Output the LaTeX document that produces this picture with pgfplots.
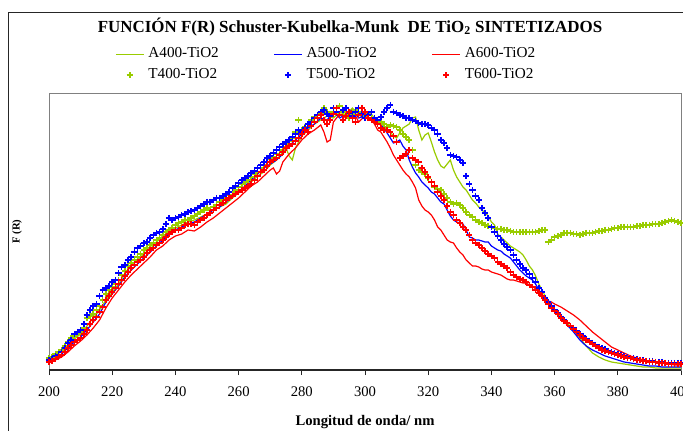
\documentclass[border=0pt]{standalone}
\usepackage{fontspec}
\setmainfont{Liberation Serif}
\usepackage{pgfplots}
\pgfplotsset{compat=1.18}
\definecolor{cgreen}{RGB}{153,204,0}
\definecolor{cblue}{RGB}{0,0,255}
\definecolor{cred}{RGB}{255,0,0}
\pgfplotsset{myleg/.style={legend image code/.code={\draw[mark repeat=2,mark phase=2,##1] plot coordinates {(0pt,0pt) (10.5pt,0pt) (21pt,0pt)};}},
  mymark/.style={only marks, mark=+, mark size=2.4pt, mark options={line width=1.15pt}}}
\begin{document}
\begin{tikzpicture}
\useasboundingbox (0,0) rectangle (512.25pt,322.5pt);
\fill[white] (0,0) rectangle (512.25pt,322.5pt);
\draw[line width=0.75pt, black!85] (6pt,-5pt) -- (6pt,313.5pt) -- (520pt,313.5pt);
\begin{axis}[
  at={(36.75pt,45pt)}, anchor=south west,
  scale only axis, width=474pt, height=207.75pt,
  xmin=200, xmax=400, ymin=0, ymax=277,
  xtick={200,220,...,400}, ytick=\empty,
  tick align=outside, xtick pos=bottom,
  major tick length=3.75pt,
  axis line style={draw=black!50, line width=0.6pt},
  tick style={black!85, line width=0.75pt},
  ticklabel style={font=\fontsize{11}{13}\selectfont},
  /pgf/number format/assume math mode=true,
  xticklabel style={/pgf/number format/1000 sep={}, yshift=-5.25pt},
  xlabel={Longitud de onda/ nm},
  xlabel style={font=\fontsize{11}{13}\selectfont\bfseries, at={(axis description cs:0.5,0)}, anchor=base, yshift=-41.5pt},
  ylabel={F (R)},
  ylabel style={font=\fontsize{8}{10}\selectfont\bfseries, at={(axis description cs:0,0.5)}, anchor=center, yshift=24pt},
  title={FUNCIÓN F(R) Schuster-Kubelka-Munk\ \ DE TiO\textsubscript{2} SINTETIZADOS},
  title style={font=\fontsize{12.7}{15}\selectfont\bfseries, at={(axis description cs:0.4763,1.1913)}, anchor=base},
  legend columns=3,
  legend cell align=left,
  legend style={draw=none, fill=none, inner sep=0pt, at={(axis description cs:0.1044,1.1661)}, anchor=north west,
    font=\fontsize{11.4}{13}\selectfont, row sep=5.25pt,
    nodes={inner sep=0pt, text height=8pt, text depth=2.5pt, text width=54pt, align=left},
    /tikz/every odd column/.append style={column sep=3pt},
    /tikz/every even column/.append style={column sep=39.75pt}},
  myleg,
]
% A400
\addplot[cgreen, line width=0.9pt, myleg] coordinates {
(200,10)(202,14)(204,19)(206,25)(208,31)(210,36)(212,44)(214,52)(216,60)(218,70)
(220,78)(222,86)(224,96)(226,104)(228,110)(230,116)(232,121)(234,128)(236,134)(238,138)
(240,142)(242,145)(244,148)(246,150)(248,153)(250,156)(252,160)(254,163)(256,166)(258,172)
(260,177)(262,182)(264,188)(266,194)(268,198)(270,205)(272,210)(274,218)(275,222)(276,214)
(277,210)(278,222)(280,234)(282,240)(284,246)(286,250)(288,254)(290,252)(292,258)(294,255)
(296,262)(298,255)(300,252)(302,256)(304,247)(306,243)(308,238)(309,234)(310,232)(311,237)
(312,242)(314,246)(315,252)(316,253)(317,240)(318,230)(319,235)(320,237)(321,228)(322,218)
(323,210)(324,204)(325,202)(326,206)(327,210)(328,200)(329,193)(330,188)(331,183)(332,180)
(333,175)(334,170)(335,167)(336,163)(337,160)(338,157)(339,154)(340,148)(341,145)(342,136)
(343,133)(344,130)(345,127)(346,124)(347,122)(348,120)(349,118)(350,115)(351,110)(352,104)
(353,100)(354,94)(355,86)(356,80)(357,74)(358,68)(359,64)(360,60)(362,52)(364,47)
(366,40)(368,32)(370,24)(372,17)(374,13)(376,10)(378,8)(380,7)(382,6)(384,5)
(386,4)(388,3)(390,3)(392,2)(394,2)(396,2)(398,2)(400,2)};
\addlegendentry{A400-TiO2}
% A500
\addplot[cblue, line width=0.9pt, myleg] coordinates {
(200,8)(202,12)(204,16)(206,22)(208,28)(210,33)(212,40)(214,48)(216,56)(218,68)
(220,76)(222,84)(224,93)(226,100)(228,106)(230,112)(232,118)(234,124)(236,130)(238,136)
(240,140)(242,143)(244,146)(246,148)(248,152)(250,156)(252,160)(254,163)(256,168)(258,173)
(260,178)(262,184)(264,190)(266,196)(268,202)(270,206)(272,210)(274,216)(276,224)(278,230)
(280,236)(282,242)(284,246)(286,252)(288,250)(290,258)(292,252)(294,256)(296,260)(298,252)
(300,254)(302,250)(304,248)(306,242)(307,237)(308,232)(309,227)(310,228)(311,230)(312,224)
(313,220)(314,210)(315,203)(316,197)(317,193)(318,188)(319,185)(320,182)(321,178)(322,176)
(323,172)(324,168)(325,166)(326,160)(327,154)(328,150)(329,148)(330,147)(331,146)(332,140)
(333,133)(334,132)(335,130)(336,130)(337,129)(338,128)(339,128)(340,124)(341,122)(342,120)
(343,119)(344,116)(345,114)(346,112)(347,108)(348,104)(349,100)(350,97)(351,94)(352,92)
(353,90)(354,86)(355,80)(356,76)(357,70)(358,66)(359,62)(360,58)(362,52)(364,45)
(366,38)(368,30)(370,24)(372,20)(374,17)(376,14)(378,12)(380,10)(382,8)(384,7)
(386,6)(388,5)(390,4)(392,4)(394,3)(396,3)(398,3)(400,3)};
\addlegendentry{A500-TiO2}
% A600
\addplot[cred, line width=0.9pt, myleg] coordinates {
(200,7)(202,10)(204,13)(206,18)(208,24)(210,29)(212,35)(214,42)(216,50)(218,62)
(220,72)(222,80)(224,88)(226,95)(228,101)(230,107)(232,113)(234,120)(236,124)(238,130)
(240,134)(242,136)(244,140)(246,139)(248,143)(250,148)(252,152)(254,157)(256,162)(258,167)
(260,172)(262,178)(264,184)(266,188)(268,194)(270,200)(271,202)(272,196)(273,199)(274,208)
(276,216)(278,222)(280,230)(282,236)(284,240)(286,245)(287,238)(288,228)(289,230)(290,248)
(292,256)(294,252)(296,260)(298,248)(300,254)(302,250)(303,246)(304,240)(305,238)(306,233)
(307,228)(308,222)(309,215)(310,210)(311,205)(312,200)(313,196)(314,193)(315,188)(316,182)
(317,170)(318,164)(319,160)(320,158)(321,155)(322,150)(323,143)(324,140)(325,135)(326,130)
(327,128)(328,127)(329,122)(330,118)(331,115)(332,110)(333,107)(334,104)(335,104)(336,103)
(337,101)(338,100)(339,100)(340,98)(341,97)(342,96)(343,95)(344,93)(345,91)(346,90)
(347,90)(348,89)(349,88)(350,87)(351,87)(352,85)(353,84)(354,81)(355,77)(356,74)
(357,71)(358,69)(359,68)(360,66)(362,63)(364,59)(366,55)(368,50)(370,44)(372,38)
(374,33)(376,28)(378,23)(380,20)(382,17)(384,14)(386,12)(388,10)(390,9)(392,8)
(394,7)(396,6)(398,5)(400,5)};
\addlegendentry{A600-TiO2}
% T400
\addplot[cgreen, mymark, myleg] coordinates {
(200,12)(201,13)(202,16)(203,18)(204,20)(205,24)(206,28)(207,32)(208,34)(209,36)
(210,38)(211,42)(212,52)(213,54)(214,56)(215,60)(216,64)(217,70)(218,76)(219,80)
(220,83)(221,86)(222,90)(223,95)(224,99)(225,104)(226,107)(227,110)(228,113)(229,116)
(230,120)(231,122)(232,125)(233,127)(234,130)(235,132)(236,135)(237,138)(238,140)(239,142)
(240,145)(241,147)(242,148)(243,150)(244,150)(245,152)(246,154)(247,156)(248,158)(249,160)
(250,162)(251,160)(252,163)(253,165)(254,168)(255,170)(256,172)(257,175)(258,178)(259,180)
(260,183)(261,186)(262,188)(263,190)(264,193)(265,196)(266,198)(267,202)(268,205)(269,208)
(270,211)(271,213)(272,216)(273,220)(274,223)(275,226)(276,229)(277,232)(278,238)(279,250)
(280,240)(281,243)(282,246)(283,250)(284,253)(285,255)(286,257)(287,262)(288,258)(289,255)
(290,258)(291,262)(292,264)(293,258)(294,255)(295,252)(296,256)(297,260)(298,262)(299,258)
(300,254)(301,256)(302,252)(303,250)(304,250)(305,248)(306,246)(307,243)(308,245)(309,244)
(310,243)(311,240)(312,236)(313,233)(314,230)(315,220)(316,205)(317,200)(318,198)(319,196)
(320,192)(321,188)(322,183)(323,181)(324,180)(325,176)(326,172)(327,168)(328,166)(329,167)
(330,165)(331,162)(332,158)(333,155)(334,153)(335,150)(336,148)(337,147)(338,145)(339,144)
(340,143)(341,142)(342,141)(343,141)(344,140)(345,140)(346,139)(347,138)(348,138)(349,138)
(350,138)(351,138)(352,138)(353,138)(354,138)(355,139)(356,140)(357,140)(358,128)(359,130)
(360,133)(361,134)(362,135)(363,137)(364,137)(365,137)(366,136)(367,136)(368,135)(369,136)
(370,137)(371,137)(372,137)(373,138)(374,139)(375,139)(376,140)(377,140)(378,141)(379,142)
(380,142)(381,143)(382,143)(383,143)(384,143)(385,143)(386,144)(387,144)(388,145)(389,145)
(390,145)(391,146)(392,146)(393,146)(394,147)(395,148)(396,149)(397,150)(398,149)(399,148)(400,147)};
\addlegendentry{T400-TiO2}
% T500
\addplot[cblue, mymark, myleg] coordinates {
(200,10)(201,11)(202,14)(203,15)(204,18)(205,22)(206,27)(207,30)(208,36)(209,38)
(210,40)(211,46)(212,55)(213,60)(214,64)(215,66)(216,74)(217,80)(218,82)(219,84)
(220,88)(221,90)(222,97)(223,103)(224,105)(225,110)(226,113)(227,118)(228,122)(229,124)
(230,127)(231,128)(232,132)(233,135)(234,137)(235,138)(236,141)(237,146)(238,152)(239,150)
(240,152)(241,153)(242,155)(243,156)(244,158)(245,159)(246,160)(247,162)(248,164)(249,166)
(250,168)(251,168)(252,170)(253,172)(254,172)(255,174)(256,176)(257,178)(258,182)(259,184)
(260,187)(261,190)(262,192)(263,194)(264,197)(265,199)(266,202)(267,205)(268,208)(269,212)
(270,214)(271,217)(272,220)(273,223)(274,226)(275,228)(276,230)(277,233)(278,236)(279,240)
(280,238)(281,242)(282,246)(283,248)(284,252)(285,255)(286,258)(287,260)(288,256)(289,254)
(290,262)(291,258)(292,255)(293,260)(294,262)(295,257)(296,254)(297,258)(298,262)(299,256)
(300,252)(301,255)(302,258)(303,252)(304,250)(305,253)(306,258)(307,262)(308,265)(309,258)
(310,257)(311,255)(312,254)(313,252)(314,252)(315,250)(316,249)(317,247)(318,246)(319,246)
(320,245)(321,242)(322,240)(323,236)(324,230)(325,227)(326,222)(327,215)(328,214)(329,213)
(330,210)(331,207)(332,194)(333,186)(334,180)(335,174)(336,170)(337,162)(338,157)(339,152)
(340,143)(341,138)(342,134)(343,130)(344,126)(345,123)(346,120)(347,115)(348,110)(349,106)
(350,102)(351,100)(352,96)(353,92)(354,88)(355,82)(356,78)(357,72)(358,68)(359,64)
(360,60)(361,57)(362,53)(363,50)(364,47)(365,44)(366,42)(367,39)(368,36)(369,34)
(370,31)(371,29)(372,27)(373,25)(374,23)(375,22)(376,21)(377,19)(378,18)(379,17)
(380,16)(381,15)(382,14)(383,13)(384,12)(385,12)(386,11)(387,10)(388,10)(389,9)
(390,9)(391,9)(392,8)(393,8)(394,8)(395,7)(396,7)(397,7)(398,7)(399,7)(400,7)};
\addlegendentry{T500-TiO2}
% T600
\addplot[cred, mymark, myleg] coordinates {
(200,8)(201,9)(202,11)(203,13)(204,15)(205,18)(206,22)(207,25)(208,28)(209,30)
(210,32)(211,36)(212,40)(213,46)(214,50)(215,53)(216,58)(217,63)(218,70)(219,74)
(220,78)(221,82)(222,86)(223,90)(224,94)(225,98)(226,102)(227,105)(228,108)(229,110)
(230,113)(231,117)(232,120)(233,122)(234,125)(235,127)(236,130)(237,133)(238,136)(239,138)
(240,140)(241,140)(242,142)(243,145)(244,146)(245,146)(246,145)(247,148)(248,150)(249,152)
(250,155)(251,157)(252,160)(253,162)(254,165)(255,167)(256,170)(257,172)(258,174)(259,176)
(260,178)(261,180)(262,182)(263,184)(264,186)(265,190)(266,194)(267,198)(268,200)(269,204)
(270,208)(271,210)(272,212)(273,215)(274,218)(275,222)(276,224)(277,226)(278,229)(279,232)
(280,236)(281,240)(282,238)(283,244)(284,248)(285,252)(286,255)(287,250)(288,246)(289,250)
(290,256)(291,262)(292,255)(293,250)(294,254)(295,258)(296,252)(297,248)(298,255)(299,262)
(300,258)(301,252)(302,250)(303,248)(304,246)(305,242)(306,240)(307,240)(308,238)(309,234)
(310,228)(311,212)(312,214)(313,216)(314,220)(315,212)(316,210)(317,208)(318,202)(319,198)
(320,193)(321,188)(322,184)(323,178)(324,174)(325,170)(326,164)(327,158)(328,155)(329,150)
(330,147)(331,143)(332,140)(333,135)(334,130)(335,127)(336,125)(337,122)(338,119)(339,116)
(340,114)(341,112)(342,108)(343,106)(344,104)(345,102)(346,98)(347,95)(348,93)(349,91)
(350,90)(351,88)(352,85)(353,83)(354,80)(355,77)(356,74)(357,70)(358,66)(359,62)
(360,59)(361,56)(362,52)(363,49)(364,47)(365,44)(366,41)(367,38)(368,35)(369,32)
(370,30)(371,28)(372,26)(373,24)(374,22)(375,20)(376,19)(377,18)(378,17)(379,16)
(380,15)(381,14)(382,13)(383,12)(384,12)(385,11)(386,10)(387,10)(388,9)(389,9)
(390,8)(391,8)(392,8)(393,7)(394,7)(395,7)(396,6)(397,6)(398,6)(399,6)(400,6)};
\addlegendentry{T600-TiO2}
\draw[black!85, line width=1.5pt] (rel axis cs:0,0) -- (rel axis cs:1,0);
\end{axis}
\end{tikzpicture}
\end{document}
